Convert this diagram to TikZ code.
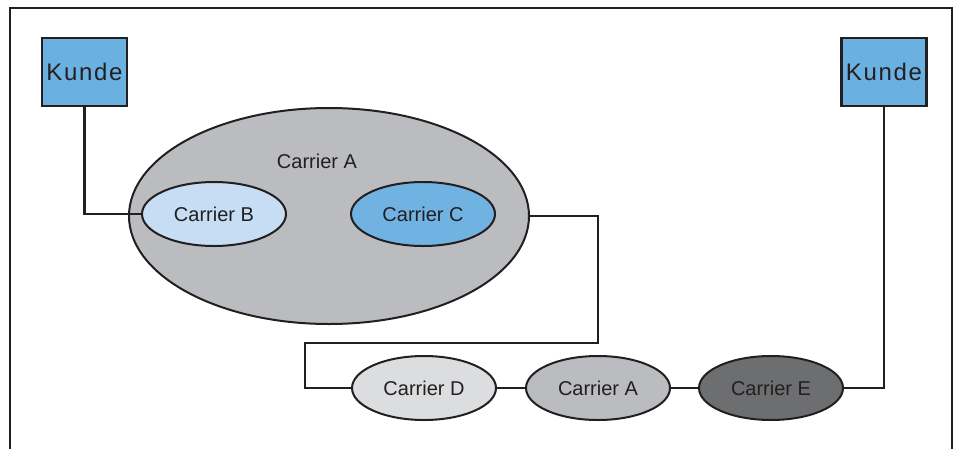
\documentclass[tikz,border=0pt]{standalone}
\usepackage{fontspec}
\setmainfont{Liberation Sans}
\newfontfamily\kundefont[LetterSpace=7]{Liberation Sans}
\usepackage{xcolor}
\usetikzlibrary{positioning,shapes.geometric}

\definecolor{kundeblue}{HTML}{6AB0E0}
\definecolor{carriergray}{HTML}{BBBCBF}
\definecolor{carrierlight}{HTML}{C6DDF3}
\definecolor{carriermid}{HTML}{70B3E3}
\definecolor{carrierpale}{HTML}{DCDDDF}
\definecolor{carrierdark}{HTML}{6D6E70}
\definecolor{inkdark}{HTML}{231F20}

\begin{document}
\begin{tikzpicture}[
    x=1pt, y=-1pt,
    node distance=28pt,
    kunde/.style={rectangle, draw=inkdark, line width=2.5pt, fill=kundeblue, minimum width=85pt, minimum height=68pt, inner sep=0pt, font=\kundefont\fontsize{24}{26}\selectfont, text=inkdark},
    carrier/.style={ellipse, draw=inkdark, line width=2pt, minimum width=144pt, minimum height=64pt, inner sep=0pt, font=\fontsize{20}{22}\selectfont, text=inkdark},
    wire/.style={draw=inkdark, line width=2.5pt}
]
    \useasboundingbox (0,0) rectangle (962,448);

    % Frame
    \draw[line width=2.5pt, draw=inkdark] (10,450) |- (952,8) -- (952,450);

    % Customers
    \node[kunde] (kundeL) at (84.5,72) {Kunde};
    \node[kunde] (kundeR) at (884,72) {Kunde};

    % Carrier A with B and C inside
    \node[carrier, fill=carriergray, minimum width=400pt, minimum height=216pt] (carrierA) at (329,216) {};
    \node[text=inkdark, font=\fontsize{20}{22}\selectfont] (labelA) at (317,161) {Carrier A};
    \node[carrier, fill=carrierlight] (carrierB) at (214,214) {Carrier B};
    \node[carrier, fill=carriermid] (carrierC) at (423,214) {Carrier C};

    % Chain below
    \node[carrier, fill=carrierpale] (carrierD) at (424,388) {Carrier D};
    \node[carrier, fill=carriergray, right=of carrierD] (carrierAA) {Carrier A};
    \node[carrier, fill=carrierdark, right=27pt of carrierAA] (carrierE) {Carrier E};

    % Bends
    \coordinate (bendR) at (598,343);
    \coordinate (bendL) at (305,343);

    % Connections
    \draw[wire] (kundeL.south) |- (carrierB.west);
    \draw[wire] (carrierA.east) -| (bendR) -- (bendL) |- (carrierD.west);
    \draw[wire] (carrierD) -- (carrierAA);
    \draw[wire] (carrierAA) -- (carrierE);
    \draw[wire] (carrierE.east) -| (kundeR.south);

\end{tikzpicture}
\end{document}
